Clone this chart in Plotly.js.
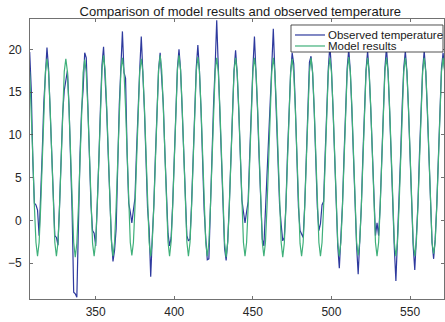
<!DOCTYPE html>
<html>
<head>
<meta charset="utf-8">
<script src="https://cdn.plot.ly/plotly-3.0.1.min.js"></script>
<style>
  html, body { margin: 0; padding: 0; background: #ffffff; }
  #chart { width: 445px; height: 322px; }
</style>
</head>
<body>
<div id="chart"></div>
<script>
// Month index of the first sample (x axis)
const firstMonth = 308;

// Observed temperature (one value per month, starting at month 308)
const observedTemperature = [
  19.7, 15.3, 7.0, 2.0, 1.8,
  1.2, -1.8, 2.5, 8.0, 13.8, 16.9, 20.2, 17.8, 12.8, 7.0, 1.2, -1.8,
  -2.0, -2.9, 1.8, 7.8, 12.5, 15.2, 16.5, 17.5, 13.5, 7.2, 1.0, -8.4,
  -8.6, -9.0, 1.0, 7.6, 12.8, 15.3, 19.6, 19.0, 13.5, 7.0, 1.8, -1.2,
  -1.5, -3.0, 1.2, 7.0, 13.0, 18.2, 20.3, 17.2, 12.8, 7.6, 1.8, -2.2,
  -4.8, -3.5, -1.0, 7.0, 13.5, 17.8, 22.1, 17.3, 16.6, 7.8, 2.0, 1.0,
  -0.3, 1.2, 2.6, 8.2, 13.6, 17.6, 21.5, 17.6, 12.9, 7.2, 1.4, -1.0,
  -6.6, -2.0, 1.8, 7.6, 13.4, 17.6, 19.6, 17.0, 13.6, 8.0, 1.8, -1.5,
  -3.0, -2.0, 2.0, 7.8, 13.5, 17.8, 20.0, 17.6, 13.0, 7.2, 1.5, -1.8,
  -2.4, -2.2, 1.9, 7.5, 13.4, 17.9, 20.5, 17.5, 13.0, 7.0, 1.2, -2.0,
  -4.6, -4.5, 2.0, 7.8, 13.6, 18.0, 23.4, 17.9, 13.0, 7.3, 1.3, -3.3,
  -4.7, -2.4, 1.8, 7.2, 13.0, 17.5, 19.9, 17.2, 12.9, 7.4, 2.4, 1.0,
  -0.3, 1.0, 2.2, 7.8, 13.5, 17.8, 21.5, 17.4, 12.8, 7.2, 1.4, -2.2,
  -3.0, 1.0, 4.4, 8.0, 13.4, 17.9, 22.4, 17.6, 13.0, 7.4, 1.8, -0.5,
  -2.4, -2.0, 1.6, 7.6, 13.2, 17.2, 19.6, 18.3, 13.4, 7.2, 1.5, -1.2,
  -1.6, -2.0, 1.8, 7.4, 13.0, 18.5, 19.2, 17.2, 13.0, 7.2, 1.6, -1.2,
  -0.4, 1.8, 2.2, 7.8, 13.4, 17.8, 20.5, 17.6, 13.0, 7.0, 1.0, -3.0,
  -5.6, -2.2, 1.8, 7.6, 13.4, 17.8, 20.0, 17.4, 12.8, 7.0, 1.2, -3.0,
  -6.3, -2.6, 1.6, 7.6, 13.2, 17.6, 19.8, 17.2, 13.0, 7.2, 1.4, -1.8,
  -0.3, -1.8, 1.8, 7.8, 13.2, 17.8, 20.2, 17.4, 12.8, 6.8, 1.0, -3.2,
  -7.1, -2.4, 1.8, 7.6, 13.4, 17.8, 19.8, 17.4, 13.0, 7.0, 1.0, -3.0,
  -5.8, -2.4, 1.8, 7.8, 13.2, 17.6, 19.8, 17.4, 12.8, 7.2, 1.2, -2.6,
  -4.5, -2.2, 1.8, 7.6, 13.4, 17.8, 19.6, 17.6
];

// Model results (one value per month, starting at month 308)
const modelResults = [
  17.4, 13.2, 7.4, 1.6, -2.6,
  -4.2, -2.6, 1.6, 7.4, 13.2, 17.4, 18.9, 17.4, 13.2, 7.4, 1.6, -2.6,
  -4.2, -2.6, 1.6, 7.4, 13.2, 17.4, 18.9, 17.4, 13.2, 7.4, 1.6, -2.6,
  -4.3, -2.7, 1.5, 7.3, 13.1, 17.3, 18.8, 17.3, 13.1, 7.3, 1.5, -2.7,
  -4.2, -2.5, 1.7, 7.5, 13.3, 17.6, 19.3, 17.6, 13.3, 7.5, 1.7, -2.5,
  -4.2, -2.6, 1.6, 7.4, 13.2, 17.4, 19.0, 17.4, 13.2, 7.4, 1.6, -2.6,
  -4.1, -2.6, 1.6, 7.4, 13.2, 17.4, 18.9, 17.4, 13.2, 7.4, 1.6, -2.6,
  -4.2, -2.5, 1.7, 7.5, 13.3, 17.6, 19.3, 17.6, 13.3, 7.5, 1.7, -2.5,
  -4.2, -2.5, 1.7, 7.5, 13.3, 17.6, 19.3, 17.6, 13.3, 7.5, 1.7, -2.5,
  -4.2, -2.6, 1.6, 7.4, 13.2, 17.5, 19.1, 17.5, 13.2, 7.4, 1.6, -2.6,
  -4.2, -2.6, 1.6, 7.4, 13.2, 17.4, 19.0, 17.4, 13.2, 7.4, 1.6, -2.6,
  -4.3, -2.6, 1.6, 7.4, 13.2, 17.4, 19.0, 17.4, 13.2, 7.4, 1.6, -2.6,
  -4.2, -2.6, 1.6, 7.4, 13.2, 17.4, 19.0, 17.4, 13.2, 7.4, 1.6, -2.6,
  -4.2, -2.6, 1.6, 7.4, 13.2, 17.4, 19.0, 17.4, 13.2, 7.4, 1.6, -2.6,
  -4.3, -2.7, 1.5, 7.3, 13.1, 17.3, 18.9, 17.3, 13.1, 7.3, 1.5, -2.7,
  -4.2, -2.6, 1.6, 7.4, 13.2, 17.4, 19.0, 17.4, 13.2, 7.4, 1.6, -2.6,
  -4.2, -2.6, 1.6, 7.4, 13.2, 17.4, 19.0, 17.4, 13.2, 7.4, 1.6, -2.6,
  -4.2, -2.6, 1.6, 7.4, 13.2, 17.4, 19.1, 17.4, 13.2, 7.4, 1.6, -2.6,
  -4.1, -2.5, 1.6, 7.4, 13.2, 17.4, 19.0, 17.4, 13.2, 7.4, 1.6, -2.6,
  -4.2, -2.6, 1.6, 7.4, 13.2, 17.4, 19.0, 17.4, 13.2, 7.4, 1.6, -2.6,
  -4.2, -2.6, 1.6, 7.4, 13.2, 17.4, 19.0, 17.4, 13.2, 7.4, 1.6, -2.6,
  -4.2, -2.6, 1.6, 7.4, 13.2, 17.4, 19.0, 17.4, 13.2, 7.4, 1.6, -2.6,
  -3.9, -2.5, 1.6, 7.4, 13.2, 17.4, 19.0, 17.4
];

const seriesNames = ['Observed temperature', 'Model results'];
const seriesColors = ['#2e3a9e', '#3fb07a'];
const xTickValues = [350, 400, 450, 500, 550];
const yTickValues = [-5, 0, 5, 10, 15, 20];
const titleText = 'Comparison of model results and observed temperature';

const font = 'Liberation Sans, Arial, Helvetica, sans-serif';
const axisColor = '#4d4d4d';

const traces = [
  {
    type: 'scatter', mode: 'lines', name: seriesNames[0],
    x0: firstMonth, dx: 1, y: observedTemperature,
    line: { color: seriesColors[0], width: 1.2 }
  },
  {
    type: 'scatter', mode: 'lines', name: seriesNames[1],
    x0: firstMonth, dx: 1, y: modelResults,
    line: { color: seriesColors[1], width: 1.2 }
  }
];

const axisCommon = {
  showgrid: false, zeroline: false,
  showline: true, linecolor: axisColor, linewidth: 0.8,
  mirror: 'allticks', ticks: 'inside', ticklen: 3, tickwidth: 0.8, tickcolor: axisColor,
  tickfont: { family: font, size: 12, color: '#262626' }
};

// MATLAB-style compact legend box (paper coordinates)
const legendBox = { x0: 0.6304, x1: 0.9976, y0: 0.8821, y1: 0.9786 };
const legendRows = [0.9429, 0.9036];
const legendSample = { x0: 0.6401, x1: 0.7126 };
const legendTextX = 0.7160;

const shapes = [
  {
    type: 'rect', xref: 'paper', yref: 'paper', layer: 'above',
    x0: legendBox.x0, x1: legendBox.x1, y0: legendBox.y0, y1: legendBox.y1,
    fillcolor: '#ffffff', line: { color: '#262626', width: 0.8 }
  }
];
const annotations = [];
seriesNames.forEach(function (name, i) {
  shapes.push({
    type: 'line', xref: 'paper', yref: 'paper', layer: 'above',
    x0: legendSample.x0, x1: legendSample.x1, y0: legendRows[i], y1: legendRows[i],
    line: { color: seriesColors[i], width: 1.2 }
  });
  annotations.push({
    xref: 'paper', yref: 'paper', x: legendTextX, y: legendRows[i],
    xanchor: 'left', yanchor: 'middle', showarrow: false,
    text: name, font: { family: font, size: 11.5, color: '#1a1a1a' }
  });
});

const layout = {
  width: 445, height: 322,
  margin: { l: 30, r: 1, t: 19, b: 23, pad: 0 },
  paper_bgcolor: '#ffffff', plot_bgcolor: '#ffffff',
  title: {
    text: titleText,
    font: { family: font, size: 13, color: '#1a1a1a' },
    x: 0.54, xanchor: 'center', y: 0.965, yanchor: 'middle'
  },
  xaxis: Object.assign({}, axisCommon, {
    range: [308.2, 571.6], tickvals: xTickValues, ticklabelstandoff: 2
  }),
  yaxis: Object.assign({}, axisCommon, {
    range: [-9.2, 23.55], tickvals: yTickValues, ticklabelstandoff: 5
  }),
  showlegend: false,
  shapes: shapes,
  annotations: annotations
};

Plotly.newPlot('chart', traces, layout, { staticPlot: true, displayModeBar: false });
</script>
</body>
</html>
